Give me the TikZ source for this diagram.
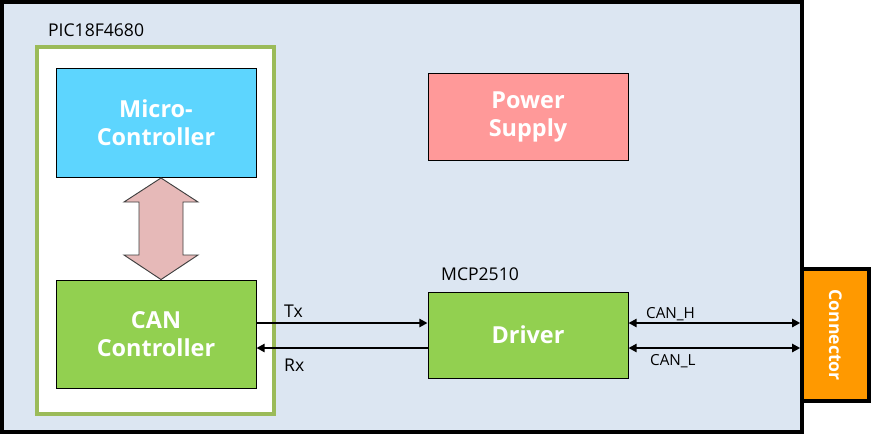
\documentclass[tikz,border=0pt]{standalone}
\usepackage{fontspec}
\setmainfont{Open Sans}
\usetikzlibrary{arrows.meta}

\definecolor{boardbg}{HTML}{DCE6F2}
\definecolor{picgreen}{HTML}{9BBB59}
\definecolor{mcublue}{HTML}{5DD5FE}
\definecolor{cangreen}{HTML}{92D050}
\definecolor{pwrred}{HTML}{FF9999}
\definecolor{connorange}{HTML}{FF9900}
\definecolor{busfill}{HTML}{E6B9B8}

\tikzset{
  block/.style={rectangle,draw=black,line width=0.8pt,text=white,align=center,
    font=\bfseries\fontsize{20}{24}\selectfont,minimum width=6cm},
  chiplabel/.style={font=\fontsize{15}{18}\selectfont,anchor=west},
  siglabel/.style={font=\fontsize{15}{17}\selectfont,anchor=west},
  sig/.style={line width=2.2pt,-{Triangle[length=7pt,width=7pt]}},
  bus/.style={line width=2.2pt,{Triangle[length=7pt,width=7pt]}-{Triangle[length=7pt,width=7pt]}}
}

\begin{document}
\begin{tikzpicture}[x=0.03cm,y=-0.03cm]
  \useasboundingbox (0,0) rectangle (872,434);

  % board and PIC frame
  \draw[line width=3pt,fill=boardbg] (2,2) rectangle (802,432);
  \draw[line width=2.8pt,draw=picgreen,fill=white] (37,47) rectangle (274,414);
  \node[chiplabel] (piclbl) at (44,30) {PIC18F4680};

  % individual modules
  \node[block,fill=mcublue,minimum height=3.27cm] (mcu) at (156,123) {Micro-\\Controller};
  \node[block,fill=cangreen,minimum height=3.24cm] (can) at (156,334) {CAN\\Controller};
  \node[block,fill=pwrred,minimum height=2.61cm] (pwr) at (528,117) {Power\\Supply};
  \node[block,fill=cangreen,minimum height=2.58cm] (drv) at (528,335) {Driver};
  \node[chiplabel] (mcplbl) at (437,274) {MCP2510};
  \node[rectangle,draw=black,line width=3pt,fill=connorange,text=white,rotate=-90,
    minimum width=3.96cm,minimum height=2.01cm,
    font=\bfseries\fontsize{15}{18}\selectfont] (conn) at (835.5,335) {Connector};

  % internal bus
  \draw[draw=black!75,line width=0.8pt,fill=busfill] (mcu.south -| 161,0) -- (198,202) -- (183,202) -- (183,255)
    -- (198,255) -- (can.north -| 161,0) -- (124,255) -- (139,255) -- (139,202) -- (124,202) -- cycle;

  % Tx / Rx lines
  \coordinate (tx) at (0,323);
  \coordinate (rx) at (0,348);
  \draw[sig] (can.east |- tx) -- (drv.west |- tx);
  \draw[sig] (drv.west |- rx) -- (can.east |- rx);
  \node[siglabel] (txlbl) at (280,311) {Tx};
  \node[siglabel] (rxlbl) at (280,365) {Rx};

  % CAN bus lines
  \draw[bus] (drv.east |- tx) -- (conn.south |- tx);
  \draw[bus] (drv.east |- rx) -- (conn.south |- rx);
  \node[siglabel,font=\fontsize{13}{15}\selectfont] (canh) at (642,314) {CAN\_H};
  \node[siglabel,font=\fontsize{13}{15}\selectfont] (canl) at (646,361) {CAN\_L};
\end{tikzpicture}
\end{document}
